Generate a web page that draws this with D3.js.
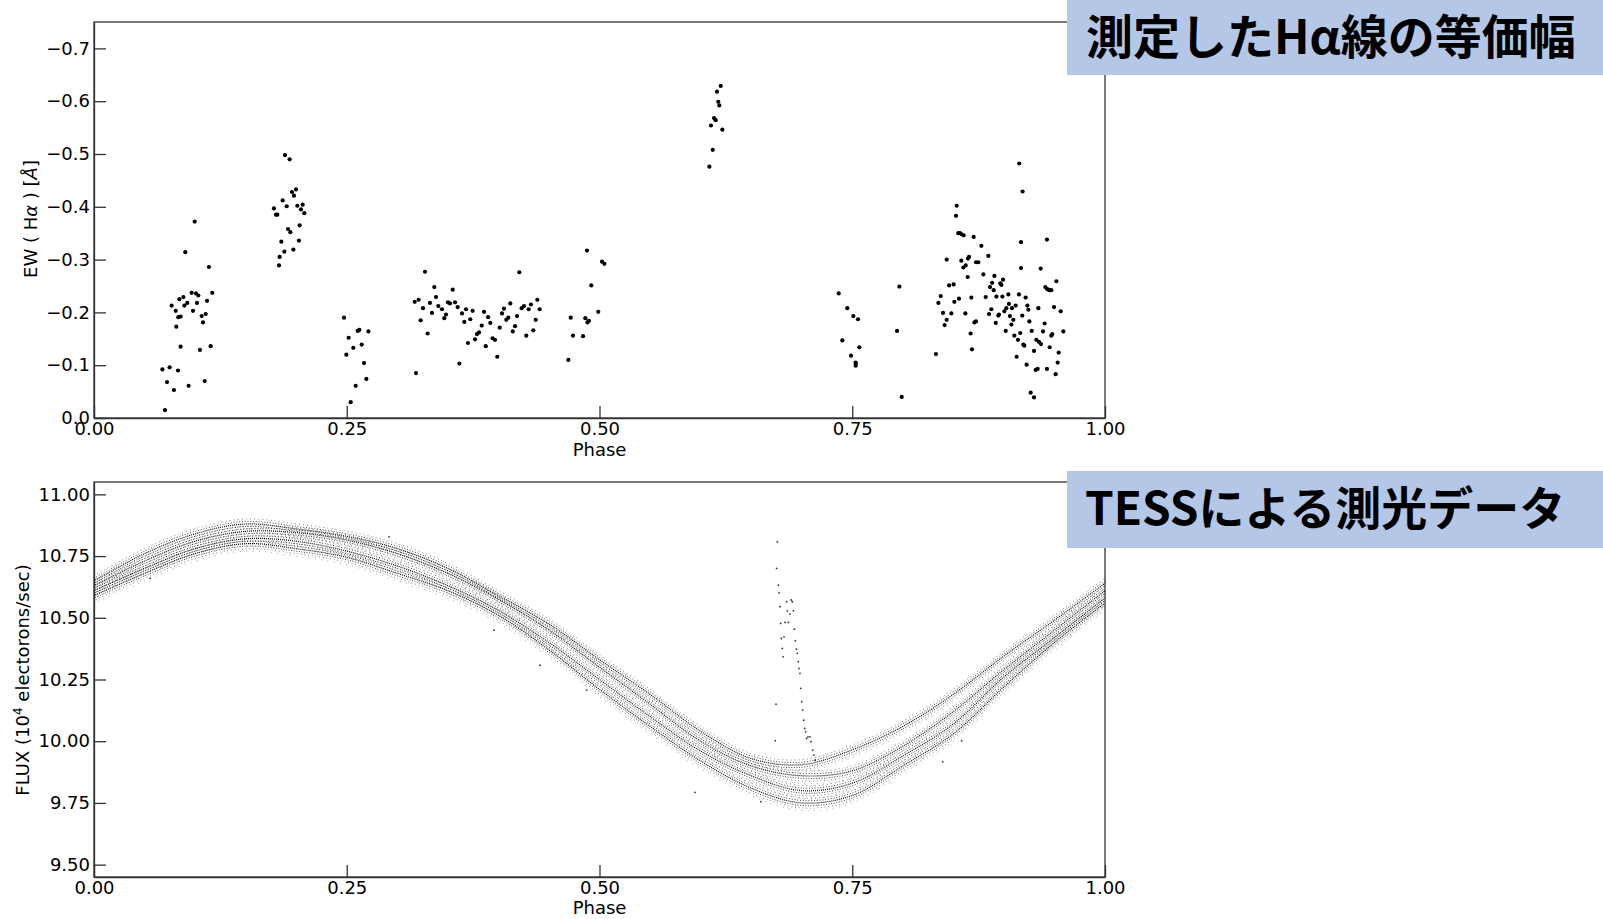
<!DOCTYPE html>
<html>
<head>
<meta charset="utf-8">
<script src="https://cdn.jsdelivr.net/npm/d3@7"></script>
<style>
body { margin: 0; background: #fff; }
text { font-family: "DejaVu Sans", sans-serif; }
.axis text { font-size: 18px; fill: #000; font-family: "DejaVu Sans", sans-serif; }
.axis path, .axis line { stroke: #333; stroke-width: 1.3; }
.label { font-size: 18px; fill: #000; }
.title { font-family: "Noto Sans CJK JP", sans-serif; font-weight: bold; fill: #000; }
</style>
</head>
<body>
<svg id="chart" width="1603" height="919"></svg>
<script>
// Hα equivalent width, [phase, EW], one list per cluster
const ewGroup1 = [[.0996,-.372],[.0903,-.314],[.1137,-.286],[.0966,-.237],[.1009,-.236],[.1032,-.232],[.1170,-.237],[.0844,-.225],[.0884,-.229],[.0768,-.213],[.0808,-.203],[.0894,-.213],[.0923,-.218],[.1019,-.218],[.1118,-.222],[.0979,-.203],[.0834,-.191],[.0857,-.192],[.1065,-.193],[.1105,-.197],[.1078,-.181],[.0814,-.173],[.0857,-.135],[.1048,-.129],[.1154,-.136],[.0676,-.092],[.0748,-.096],[.0831,-.090],[.0722,-.068],[.0791,-.053],[.0936,-.061],[.1095,-.070],[.0702,-.015]];
const ewGroup2 = [[.1889,-.498],[.1935,-.490],[.1998,-.433],[.1958,-.428],[.1978,-.421],[.1866,-.412],[.1906,-.401],[.1780,-.397],[.1800,-.385],[.1813,-.385],[.2011,-.402],[.2064,-.404],[.2047,-.395],[.2080,-.388],[.2034,-.365],[.1919,-.358],[.1942,-.352],[.1853,-.334],[.2027,-.336],[.1883,-.315],[.1972,-.319],[.1836,-.305],[.1830,-.289]];
const ewGroup3 = [[.2473,-.190],[.2519,-.152],[.2496,-.120],[.2565,-.133],[.2608,-.165],[.2625,-.167],[.2714,-.164],[.2648,-.139],[.2671,-.104],[.2694,-.074],[.2588,-.061],[.2539,-.030]];
const ewGroup4 = [[.3274,-.277],[.3172,-.220],[.3211,-.224],[.3254,-.208],[.3231,-.185],[.3300,-.160],[.3185,-.085],[.3323,-.218],[.3343,-.199],[.3366,-.248],[.3383,-.229],[.3406,-.212],[.3442,-.206],[.3465,-.189],[.3482,-.196],[.3501,-.219],[.3521,-.217],[.3548,-.243],[.3571,-.219],[.3597,-.210],[.3640,-.198],[.3663,-.182],[.3680,-.206],[.3699,-.142],[.3722,-.187],[.3745,-.203],[.3614,-.103],[.3769,-.149],[.3788,-.159],[.3808,-.162],[.3835,-.175],[.3858,-.201],[.3875,-.136],[.3898,-.191],[.3920,-.180],[.3943,-.151],[.3966,-.148],[.3989,-.116],[.4013,-.171],[.4036,-.198],[.4055,-.207],[.4078,-.186],[.4098,-.190],[.4118,-.217],[.4142,-.164],[.4165,-.174],[.4184,-.193],[.4207,-.276],[.4230,-.208],[.4253,-.212],[.4276,-.156],[.4299,-.206],[.4322,-.215],[.4345,-.166],[.4369,-.186],[.4385,-.224],[.4408,-.206]];
const ewGroup5 = [[.4692,-.110],[.4715,-.190],[.4738,-.156],[.4837,-.155],[.4860,-.189],[.4880,-.181],[.4896,-.184],[.4876,-.317],[.4919,-.251],[.4988,-.201],[.5025,-.296],[.5048,-.292]];
const ewGroup6 = [[.6199,-.629],[.6162,-.618],[.6175,-.599],[.6185,-.592],[.6133,-.568],[.6149,-.564],[.6103,-.554],[.6215,-.546],[.6120,-.508],[.6087,-.476]];
const ewGroup7 = [[.7366,-.236],[.7451,-.208],[.7511,-.193],[.7557,-.187],[.7402,-.147],[.7570,-.134],[.7488,-.118],[.7534,-.105],[.7534,-.103],[.7534,-.099],[.7966,-.249],[.7943,-.165],[.7989,-.040]];
const ewGroup8 = [[.8328,-.121],[.8352,-.218],[.8375,-.231],[.8398,-.199],[.8414,-.176],[.8434,-.186],[.8434,-.300],[.8458,-.251],[.8480,-.198],[.8503,-.253],[.8510,-.220],[.8526,-.383],[.8533,-.402],[.8556,-.226],[.8549,-.350],[.8566,-.350],[.8582,-.348],[.8602,-.346],[.8579,-.298],[.8599,-.285],[.8622,-.289],[.8645,-.302],[.8655,-.305],[.8642,-.267],[.8619,-.198],[.8671,-.160],[.8678,-.228],[.8684,-.130],[.8701,-.343],[.8708,-.181],[.8724,-.183],[.8724,-.295],[.8747,-.295],[.8777,-.326],[.8797,-.272],[.8820,-.229],[.8846,-.307],[.8853,-.197],[.8876,-.206],[.8863,-.248],[.8883,-.256],[.8899,-.242],[.8906,-.269],[.8919,-.180],[.8926,-.230],[.8945,-.194],[.8952,-.196],[.8965,-.255],[.8975,-.252],[.8991,-.262],[.8985,-.230],[.9004,-.202],[.9018,-.165],[.9024,-.208],[.9044,-.234],[.9050,-.216],[.9060,-.193],[.9074,-.177],[.9080,-.208],[.9093,-.186],[.9103,-.156],[.9116,-.213],[.9126,-.116],[.9139,-.148],[.9149,-.234],[.9162,-.161],[.9169,-.333],[.9169,-.284],[.9185,-.429],[.9152,-.482],[.9182,-.194],[.9192,-.139],[.9202,-.137],[.9215,-.228],[.9225,-.101],[.9232,-.213],[.9242,-.205],[.9252,-.183],[.9265,-.048],[.9275,-.165],[.9298,-.039],[.9298,-.127],[.9314,-.091],[.9321,-.148],[.9334,-.093],[.9341,-.208],[.9347,-.144],[.9364,-.283],[.9367,-.140],[.9387,-.164],[.9403,-.179],[.9410,-.248],[.9426,-.338],[.9426,-.093],[.9430,-.244],[.9453,-.134],[.9449,-.242],[.9469,-.242],[.9469,-.156],[.9479,-.159],[.9496,-.210],[.9512,-.083],[.9519,-.259],[.9532,-.105],[.9542,-.124],[.9562,-.202],[.9588,-.164]];

const ewTicks = [0, -0.1, -0.2, -0.3, -0.4, -0.5, -0.6, -0.7];
const phaseTicks = [0, 0.25, 0.5, 0.75, 1];

// TESS light curve: the folded curve shows several strands (cycles), read at these phases
const lcPhase = [0, .05, .10, .15, .20, .25, .30, .35, .40, .45, .50, .55, .60, .65, .70, .75, .80, .85, .90, .95, 1.0];
const strandA = [10.65, 10.76, 10.84, 10.88, 10.86, 10.83, 10.78, 10.70, 10.59, 10.475, 10.33, 10.19, 10.04, 9.93, 9.905, 9.965, 10.06, 10.19, 10.345, 10.49, 10.64];
const strandB = [10.63, 10.73, 10.81, 10.85, 10.845, 10.815, 10.76, 10.68, 10.575, 10.45, 10.30, 10.15, 10.00, 9.90, 9.86, 9.88, 9.98, 10.12, 10.29, 10.45, 10.61];
const strandC = [10.61, 10.70, 10.78, 10.82, 10.81, 10.77, 10.71, 10.63, 10.53, 10.40, 10.25, 10.10, 9.96, 9.86, 9.80, 9.83, 9.94, 10.07, 10.26, 10.42, 10.58];
const strandD = [10.59, 10.68, 10.76, 10.80, 10.78, 10.745, 10.68, 10.61, 10.51, 10.37, 10.21, 10.06, 9.92, 9.81, 9.75, 9.78, 9.90, 10.03, 10.22, 10.40, 10.56];
// flare points and a few stray points, [phase, flux]
const flarePoints = [[.6759,10.808],[.6752,10.700],[.6769,10.632],[.6776,10.601],[.6785,10.545],[.6792,10.477],[.6799,10.416],[.6808,10.376],[.6815,10.342],[.6825,10.423],[.6835,10.481],[.6851,10.565],[.6868,10.481],[.6884,10.515],[.6897,10.572],[.6907,10.565],[.6917,10.528],[.6858,10.528],[.6927,10.454],[.6937,10.407],[.6947,10.373],[.6957,10.356],[.6967,10.322],[.6973,10.295],[.6983,10.275],[.6990,10.214],[.7000,10.160],[.7010,10.126],[.7020,10.085],[.7029,10.052],[.7039,10.038],[.7049,10.011],[.7062,10.018],[.7082,10.018],[.7092,9.998],[.7109,9.964],[.7122,9.944],[.7132,9.923]];
const strayPoints = [[.5945,9.793],[.6597,9.755],[.8394,9.917],[.8582,10.002],[.0554,10.66],[.2918,10.828],[.4411,10.308],[.3956,10.45],[.4873,10.207],[.6746,10.150],[.6739,10.002]];
const fluxTicks = [9.5, 9.75, 10.0, 10.25, 10.5, 10.75, 11.0];

const svg = d3.select("#chart");
const left = 94, right = 1105;

const x = d3.scaleLinear().domain([0, 1]).range([left, right]);
const yEW = d3.scaleLinear().domain([0, -0.75]).range([418, 22]);
const yFlux = d3.scaleLinear().domain([9.45, 11.05]).range([877, 482]);

function drawAxes(yScale, ticks, fmt, top, bottom) {
  svg.append("g")
    .attr("class", "axis")
    .attr("transform", "translate(0," + bottom + ")")
    .call(d3.axisBottom(x).tickValues(phaseTicks).tickFormat(d3.format(".2f")).tickSizeInner(-12).tickSizeOuter(0).tickPadding(4));
  svg.append("g")
    .attr("class", "axis")
    .attr("transform", "translate(" + left + ",0)")
    .call(d3.axisLeft(yScale).tickValues(ticks).tickFormat(fmt).tickSizeInner(-12).tickSizeOuter(0).tickPadding(4));
  // frame
  svg.append("rect")
    .attr("x", left).attr("y", top)
    .attr("width", right - left).attr("height", bottom - top)
    .attr("fill", "none").attr("stroke", "#333").attr("stroke-width", 1.3);
}

// top panel: EW(Hα)
drawAxes(yEW, ewTicks, d3.format(".1f"), 22, 418);

const ewAll = [].concat(ewGroup1, ewGroup2, ewGroup3, ewGroup4, ewGroup5, ewGroup6, ewGroup7, ewGroup8);
svg.append("g").selectAll("circle")
  .data(ewAll).enter()
  .append("circle")
  .attr("cx", d => x(d[0]))
  .attr("cy", d => yEW(d[1]))
  .attr("r", 2.1)
  .attr("fill", "#000");

svg.append("text").attr("class", "label")
  .attr("x", x(0.5)).attr("y", 456).attr("text-anchor", "middle").text("Phase");

const ewLabel = svg.append("text").attr("class", "label")
  .attr("transform", "translate(37,219) rotate(-90)")
  .attr("font-size", "18.5px")
  .attr("text-anchor", "middle");
ewLabel.append("tspan").text("EW ( H");
ewLabel.append("tspan").attr("font-style", "italic").text("α");
ewLabel.append("tspan").text(" ) [");
ewLabel.append("tspan").attr("font-style", "italic").text("Å");
ewLabel.append("tspan").text("]");

// bottom panel: TESS flux
drawAxes(yFlux, fluxTicks, d3.format(".2f"), 482, 877);

const strands = [strandA, strandB, strandC, strandD];
const line = d3.line()
  .x(d => x(d[0]))
  .y(d => yFlux(d[1]))
  .curve(d3.curveCatmullRom.alpha(0.5));

// each strand drawn as a few dotted passes so it reads like a band of points
const passes = [
  {dy: 0, dash: "1 1", off: 0.5, op: 0.95, w: 1.2},
  {dy: -2.5, dash: "1 1.8", off: 0, op: 0.75, w: 1},
  {dy: 2.5, dash: "1 1.6", off: 1.1, op: 0.75, w: 1},
  {dy: -5, dash: "1 3.1", off: 0.4, op: 0.5, w: 1},
  {dy: 5, dash: "1 2.7", off: 1.7, op: 0.5, w: 1},
  {dy: 7.5, dash: "1 5.3", off: 2.2, op: 0.35, w: 1}
];
const lcG = svg.append("g");
strands.forEach(function(s) {
  const pts = lcPhase.map((p, i) => [p, s[i]]);
  passes.forEach(function(ps) {
    lcG.append("path")
      .attr("d", line(pts))
      .attr("transform", "translate(0," + ps.dy + ")")
      .attr("fill", "none")
      .attr("stroke", "#000")
      .attr("stroke-width", ps.w)
      .attr("stroke-opacity", ps.op)
      .attr("stroke-dasharray", ps.dash)
      .attr("stroke-dashoffset", ps.off);
  });
});

lcG.selectAll("circle")
  .data(flarePoints.concat(strayPoints)).enter()
  .append("circle")
  .attr("cx", d => x(d[0]))
  .attr("cy", d => yFlux(d[1]))
  .attr("r", 0.9)
  .attr("fill", "#000")
  .attr("fill-opacity", 0.8);

svg.append("text").attr("class", "label")
  .attr("x", x(0.5)).attr("y", 914).attr("text-anchor", "middle").text("Phase");

const fluxLabel = svg.append("text").attr("class", "label")
  .attr("transform", "translate(29,680) rotate(-90)")
  .attr("text-anchor", "middle");
fluxLabel.append("tspan").text("FLUX (10");
fluxLabel.append("tspan").attr("font-size", "12px").attr("dy", "-7").text("4");
fluxLabel.append("tspan").attr("dy", "7").text(" electorons/sec)");

// title boxes
svg.append("rect").attr("x", 1067).attr("y", 0).attr("width", 536).attr("height", 75).attr("fill", "#b4c7e7");
svg.append("text").attr("class", "title").attr("font-size", "47px").attr("x", 1086).attr("y", 54).text("測定したHα線の等価幅");
svg.append("rect").attr("x", 1067).attr("y", 471).attr("width", 536).attr("height", 77).attr("fill", "#b4c7e7");
svg.append("text").attr("class", "title").attr("font-size", "46px").attr("x", 1085).attr("y", 525).text("TESSによる測光データ");
</script>
</body>
</html>
